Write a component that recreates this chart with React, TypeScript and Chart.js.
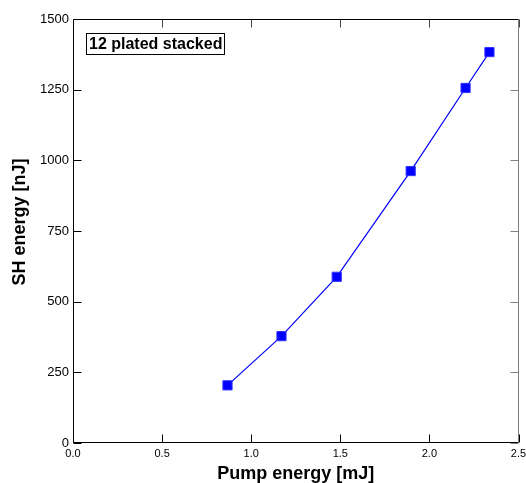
import React, { useEffect, useRef } from 'react';
import { Chart, registerables } from 'chart.js';
Chart.register(...registerables);

const pumpEnergy = [0.867, 1.17, 1.48, 1.895, 2.203, 2.337];
const shEnergy = [204, 378, 588, 962, 1256, 1383];
const xTicks = [0, 0.5, 1.0, 1.5, 2.0, 2.5];
const yTicks = [0, 250, 500, 750, 1000, 1250, 1500];
const xTitle = 'Pump energy [mJ]';
const yTitle = 'SH energy [nJ]';
const annotation = '12 plated stacked';

const FONT = '"Liberation Sans", Arial, Helvetica, sans-serif';

const framePlugin = {
  id: 'frame',
  beforeDatasetsDraw(chart: any) {
    const { ctx, chartArea: a, scales } = chart;
    const L = Math.round(a.left) + 0.5;
    const R = Math.round(a.right) - 0.5;
    const T = Math.round(a.top) + 0.5;
    const B = Math.round(a.bottom) - 0.5;
    const tl = 8;
    ctx.save();
    ctx.lineWidth = 1;
    for (const v of xTicks) {
      const x = Math.round(scales.x.getPixelForValue(v)) + 0.5;
      ctx.strokeStyle = '#000';
      ctx.beginPath(); ctx.moveTo(x, B); ctx.lineTo(x, B - tl); ctx.stroke();
      ctx.strokeStyle = '#444';
      ctx.beginPath(); ctx.moveTo(x, T); ctx.lineTo(x, T + tl); ctx.stroke();
    }
    for (const v of yTicks) {
      const y = Math.round(scales.y.getPixelForValue(v)) + 0.5;
      ctx.strokeStyle = '#000';
      ctx.beginPath(); ctx.moveTo(L, y); ctx.lineTo(L + tl, y); ctx.stroke();
      ctx.strokeStyle = '#808080';
      ctx.beginPath(); ctx.moveTo(R, y); ctx.lineTo(R - tl, y); ctx.stroke();
    }
    ctx.strokeStyle = '#000';
    ctx.beginPath();
    ctx.moveTo(R, T); ctx.lineTo(L, T); ctx.lineTo(L, B); ctx.lineTo(R, B);
    ctx.stroke();
    ctx.strokeStyle = '#808080';
    ctx.beginPath(); ctx.moveTo(R, T); ctx.lineTo(R, B); ctx.stroke();
    ctx.restore();
  },
  afterDraw(chart: any) {
    const { ctx, chartArea: a } = chart;
    ctx.save();
    ctx.fillStyle = '#000';
    ctx.font = `bold 18px ${FONT}`;
    ctx.textAlign = 'center';
    ctx.textBaseline = 'middle';
    ctx.fillText(xTitle, (a.left + a.right) / 2, 474);
    ctx.save();
    ctx.translate(20, 222);
    ctx.rotate(-Math.PI / 2);
    ctx.fillText(yTitle, 0, 0);
    ctx.restore();
    ctx.font = `bold 16px ${FONT}`;
    ctx.textAlign = 'left';
    const w = ctx.measureText(annotation).width;
    const bx = a.left + 13.5;
    const by = a.top + 14.5;
    ctx.strokeStyle = '#000';
    ctx.lineWidth = 1;
    ctx.strokeRect(bx, by, Math.round(w) + 5, 21);
    ctx.fillText(annotation, bx + 2.5, by + 11);
    ctx.restore();
  },
};

export default function App() {
  const ref = useRef<HTMLCanvasElement>(null);
  useEffect(() => {
    if (!ref.current) return;
    const chart = new Chart(ref.current, {
      type: 'line',
      data: {
        datasets: [
          {
            data: pumpEnergy.map((x, i) => ({ x, y: shEnergy[i] })),
            borderColor: '#0000ff',
            backgroundColor: '#0000ff',
            borderWidth: 1.2,
            pointStyle: 'rect',
            pointRadius: 6.5,
            pointBorderWidth: 1,
            pointBorderColor: '#3333ff',
            pointBackgroundColor: '#0000ff',
            tension: 0,
            fill: false,
          },
        ],
      },
      options: {
        responsive: false,
        animation: false,
        devicePixelRatio: 1,
        layout: { padding: { left: 0, top: 19, right: 7, bottom: 0 } },
        plugins: { legend: { display: false }, tooltip: { enabled: false } },
        scales: {
          x: {
            type: 'linear',
            min: 0,
            max: 2.5,
            afterBuildTicks: (s: any) => { s.ticks = xTicks.map((v) => ({ value: v })); },
            afterFit: (s: any) => { s.height = 40; s.paddingLeft = 0; s.paddingRight = 0; },
            grid: { display: false, drawTicks: false },
            border: { display: false },
            ticks: {
              padding: 4,
              color: '#000',
              font: { family: FONT, size: 11 },
              maxRotation: 0,
              callback: (v: any) => Number(v).toFixed(1),
            },
          },
          y: {
            type: 'linear',
            min: 0,
            max: 1500,
            afterBuildTicks: (s: any) => { s.ticks = yTicks.map((v) => ({ value: v })); },
            afterFit: (s: any) => { s.width = 73; s.paddingTop = 0; s.paddingBottom = 0; },
            grid: { display: false, drawTicks: false },
            border: { display: false },
            ticks: {
              padding: 4,
              color: '#000',
              font: { family: FONT, size: 13 },
              callback: (v: any) => String(v),
            },
          },
        },
      },
      plugins: [framePlugin],
    });
    return () => chart.destroy();
  }, []);
  return (
    <div style={{ position: 'fixed', left: 0, top: 0, width: 526, height: 483, overflow: 'hidden', background: '#fff' }}>
      <canvas ref={ref} width={526} height={483} style={{ display: 'block', width: 526, height: 483 }} />
    </div>
  );
}
